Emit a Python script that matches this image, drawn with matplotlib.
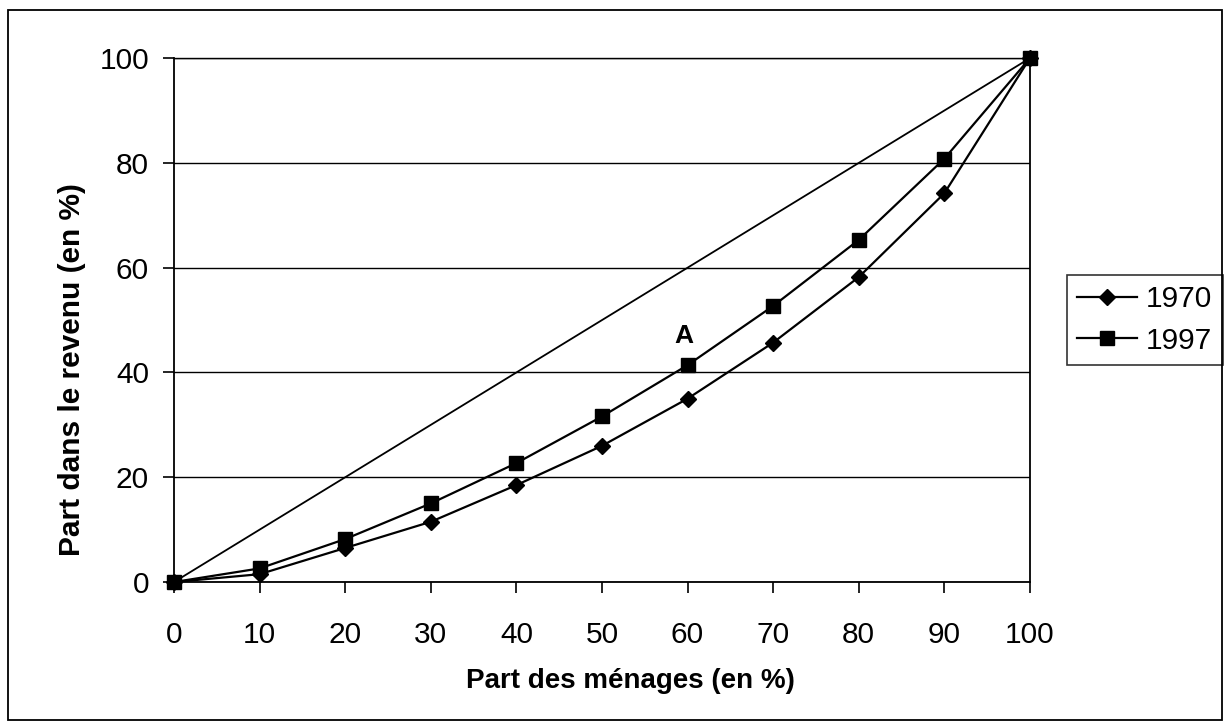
import matplotlib.pyplot as plt
from matplotlib.patches import Rectangle

plt.rcParams['font.family'] = ['Liberation Sans', 'DejaVu Sans']

menages = [0, 10, 20, 30, 40, 50, 60, 70, 80, 90, 100]
revenu_1970 = [0, 1.5, 6.5, 11.5, 18.5, 26, 35, 45.7, 58.2, 74.2, 100]
revenu_1997 = [0, 2.6, 8.2, 15, 22.7, 31.6, 41.4, 52.7, 65.3, 80.8, 100]
egalite = [0, 100]

fig = plt.figure(figsize=(12.29, 7.27), dpi=100)
ax = fig.add_axes([0.1416, 0.1994, 0.6964, 0.7206])

# ligne d'egalite
ax.plot(egalite, egalite, color='black', lw=1.3)
ax.plot(menages, revenu_1970, color='black', lw=1.6, marker='D', markersize=8,
        label='1970', clip_on=False, zorder=3)
ax.plot(menages, revenu_1997, color='black', lw=1.6, marker='s', markersize=10.5,
        label='1997', clip_on=False, zorder=3)

ax.text(59.6, 47, 'A', fontsize=19, fontweight='bold', ha='center', va='center')

ax.set_xlim(0, 100)
ax.set_ylim(0, 100)
ax.set_xticks(range(0, 101, 10))
ax.set_yticks(range(0, 101, 20))
ax.yaxis.grid(True, color='black', lw=1.0)
ax.set_axisbelow(True)
ax.tick_params(direction='out', length=8, width=1.2, labelsize=21.5, pad=10)
ax.tick_params(axis='x', pad=20)
for s in ax.spines.values():
    s.set_linewidth(1.3)
ax.spines['top'].set_linewidth(1.0)

ax.set_xlabel('Part des ménages (en %)', fontsize=20, fontweight='bold', va='top')
ax.set_ylabel('Part dans le revenu (en %)', fontsize=21.5, fontweight='bold')
ax.xaxis.set_label_coords(0.533, -0.165)
ax.yaxis.set_label_coords(-0.103, 0.406)

leg = ax.legend(loc='center left', bbox_to_anchor=(1.043, 0.5), fontsize=21.5,
                frameon=True, fancybox=False, edgecolor='black', handlelength=2.0,
                handletextpad=0.3, borderpad=0.35, labelspacing=0.45, borderaxespad=0)
leg.get_frame().set_linewidth(1.2)

fig.patches.append(Rectangle((8 / 1229, 1 - 720 / 727), 1214 / 1229, 710 / 727,
                             transform=fig.transFigure, fill=False, edgecolor='black', lw=1.3))

fig.savefig('out.png', dpi=100)
